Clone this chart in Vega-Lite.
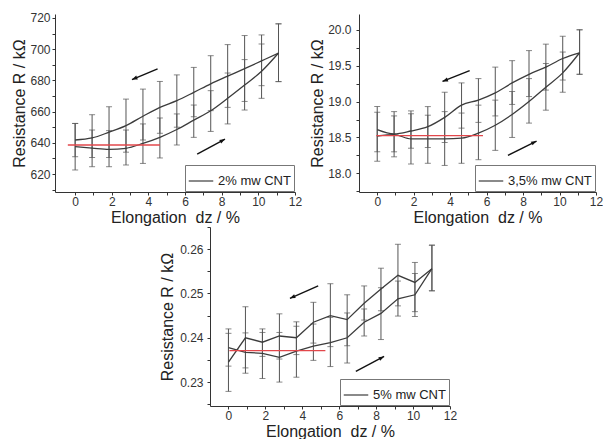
{
  "$schema": "https://vega.github.io/schema/vega-lite/v6.json",
  "background": "white",
  "padding": {"left": 11, "top": 11, "right": 0, "bottom": 0},
  "config": {
    "view": {"stroke": null},
    "axis": {"grid": false, "domainColor": "#333", "tickColor": "#333", "tickSize": 3, "labelFont": "Liberation Sans", "labelFontSize": 12, "labelColor": "#333", "titleFont": "Liberation Sans", "titleFontSize": 16, "titleFontWeight": "normal", "titleColor": "#222", "labelOverlap": false, "labelFlush": false}
  },
  "datasets": {
    "p1": [
      {"x": 0, "branch": "up", "label": "2% mw CNT", "mean": 641.8, "lo": 631.1, "hi": 652.4},
      {"x": 0.925, "branch": "up", "label": "2% mw CNT", "mean": 643.1, "lo": 630.6, "hi": 658},
      {"x": 1.85, "branch": "up", "label": "2% mw CNT", "mean": 646.8, "lo": 630.6, "hi": 663.1},
      {"x": 2.775, "branch": "up", "label": "2% mw CNT", "mean": 651, "lo": 634, "hi": 668},
      {"x": 3.7, "branch": "up", "label": "2% mw CNT", "mean": 657, "lo": 641.8, "hi": 674.4},
      {"x": 4.625, "branch": "up", "label": "2% mw CNT", "mean": 662.7, "lo": 646.1, "hi": 679.3},
      {"x": 5.55, "branch": "up", "label": "2% mw CNT", "mean": 667, "lo": 650, "hi": 683.5},
      {"x": 6.475, "branch": "up", "label": "2% mw CNT", "mean": 672.3, "lo": 656.7, "hi": 688.3},
      {"x": 7.4, "branch": "up", "label": "2% mw CNT", "mean": 677.8, "lo": 660.6, "hi": 695.8},
      {"x": 8.325, "branch": "up", "label": "2% mw CNT", "mean": 682.7, "lo": 662.7, "hi": 702.9},
      {"x": 9.25, "branch": "up", "label": "2% mw CNT", "mean": 687.5, "lo": 666.5, "hi": 708.7},
      {"x": 10.175, "branch": "up", "label": "2% mw CNT", "mean": 692.5, "lo": 676.6, "hi": 709.1},
      {"x": 11.1, "branch": "up", "label": "2% mw CNT", "mean": 697.5, "lo": 679.2, "hi": 716.2},
      {"x": 0, "branch": "down", "label": "2% mw CNT", "mean": 637.5, "lo": 622.6, "hi": 652.4},
      {"x": 0.925, "branch": "down", "label": "2% mw CNT", "mean": 636.6, "lo": 624.7, "hi": 648.2},
      {"x": 1.85, "branch": "down", "label": "2% mw CNT", "mean": 635.8, "lo": 624.7, "hi": 647.8},
      {"x": 2.775, "branch": "down", "label": "2% mw CNT", "mean": 636.5, "lo": 625.8, "hi": 648.2},
      {"x": 3.7, "branch": "down", "label": "2% mw CNT", "mean": 639.6, "lo": 626.8, "hi": 652.1},
      {"x": 4.625, "branch": "down", "label": "2% mw CNT", "mean": 643.5, "lo": 630.3, "hi": 655.9},
      {"x": 5.55, "branch": "down", "label": "2% mw CNT", "mean": 648.5, "lo": 638.6, "hi": 658.5},
      {"x": 6.475, "branch": "down", "label": "2% mw CNT", "mean": 654.5, "lo": 643.5, "hi": 664.2},
      {"x": 7.4, "branch": "down", "label": "2% mw CNT", "mean": 660.5, "lo": 647.3, "hi": 673.4},
      {"x": 8.325, "branch": "down", "label": "2% mw CNT", "mean": 668.5, "lo": 652.1, "hi": 684.7},
      {"x": 9.25, "branch": "down", "label": "2% mw CNT", "mean": 677, "lo": 661, "hi": 693.3},
      {"x": 10.175, "branch": "down", "label": "2% mw CNT", "mean": 685.8, "lo": 668.5, "hi": 703.3},
      {"x": 11.1, "branch": "down", "label": "2% mw CNT", "mean": 697.5, "lo": 679.2, "hi": 716.2}
    ],
    "p2": [
      {"x": 0, "branch": "up", "label": "3,5% mw CNT", "mean": 18.61, "lo": 18.30, "hi": 18.93},
      {"x": 0.925, "branch": "up", "label": "3,5% mw CNT", "mean": 18.55, "lo": 18.23, "hi": 18.86},
      {"x": 1.85, "branch": "up", "label": "3,5% mw CNT", "mean": 18.59, "lo": 18.35, "hi": 18.83},
      {"x": 2.775, "branch": "up", "label": "3,5% mw CNT", "mean": 18.65, "lo": 18.36, "hi": 18.93},
      {"x": 3.7, "branch": "up", "label": "3,5% mw CNT", "mean": 18.78, "lo": 18.43, "hi": 19.13},
      {"x": 4.625, "branch": "up", "label": "3,5% mw CNT", "mean": 18.95, "lo": 18.63, "hi": 19.26},
      {"x": 5.55, "branch": "up", "label": "3,5% mw CNT", "mean": 19.02, "lo": 18.71, "hi": 19.32},
      {"x": 6.475, "branch": "up", "label": "3,5% mw CNT", "mean": 19.12, "lo": 18.80, "hi": 19.48},
      {"x": 7.4, "branch": "up", "label": "3,5% mw CNT", "mean": 19.26, "lo": 18.96, "hi": 19.57},
      {"x": 8.325, "branch": "up", "label": "3,5% mw CNT", "mean": 19.38, "lo": 19.07, "hi": 19.71},
      {"x": 9.25, "branch": "up", "label": "3,5% mw CNT", "mean": 19.48, "lo": 19.16, "hi": 19.80},
      {"x": 10.175, "branch": "up", "label": "3,5% mw CNT", "mean": 19.60, "lo": 19.30, "hi": 19.91},
      {"x": 11.1, "branch": "up", "label": "3,5% mw CNT", "mean": 19.68, "lo": 19.38, "hi": 20.0},
      {"x": 0, "branch": "down", "label": "3,5% mw CNT", "mean": 18.52, "lo": 18.17, "hi": 18.85},
      {"x": 0.925, "branch": "down", "label": "3,5% mw CNT", "mean": 18.54, "lo": 18.30, "hi": 18.80},
      {"x": 1.85, "branch": "down", "label": "3,5% mw CNT", "mean": 18.48, "lo": 18.13, "hi": 18.87},
      {"x": 2.775, "branch": "down", "label": "3,5% mw CNT", "mean": 18.48, "lo": 18.14, "hi": 18.81},
      {"x": 3.7, "branch": "down", "label": "3,5% mw CNT", "mean": 18.48, "lo": 18.11, "hi": 18.86},
      {"x": 4.625, "branch": "down", "label": "3,5% mw CNT", "mean": 18.49, "lo": 18.14, "hi": 18.84},
      {"x": 5.55, "branch": "down", "label": "3,5% mw CNT", "mean": 18.56, "lo": 18.19, "hi": 18.95},
      {"x": 6.475, "branch": "down", "label": "3,5% mw CNT", "mean": 18.67, "lo": 18.32, "hi": 19.02},
      {"x": 7.4, "branch": "down", "label": "3,5% mw CNT", "mean": 18.82, "lo": 18.50, "hi": 19.14},
      {"x": 8.325, "branch": "down", "label": "3,5% mw CNT", "mean": 19.00, "lo": 18.70, "hi": 19.32},
      {"x": 9.25, "branch": "down", "label": "3,5% mw CNT", "mean": 19.20, "lo": 18.88, "hi": 19.53},
      {"x": 10.175, "branch": "down", "label": "3,5% mw CNT", "mean": 19.40, "lo": 19.13, "hi": 19.69},
      {"x": 11.1, "branch": "down", "label": "3,5% mw CNT", "mean": 19.68, "lo": 19.38, "hi": 20.0}
    ],
    "p3": [
      {"x": 0, "branch": "up", "label": "5% mw CNT", "mean": 0.2345, "lo": 0.2279, "hi": 0.2410},
      {"x": 0.92, "branch": "up", "label": "5% mw CNT", "mean": 0.2400, "lo": 0.2332, "hi": 0.2470},
      {"x": 1.84, "branch": "up", "label": "5% mw CNT", "mean": 0.2390, "lo": 0.2358, "hi": 0.2420},
      {"x": 2.76, "branch": "up", "label": "5% mw CNT", "mean": 0.2404, "lo": 0.2352, "hi": 0.2454},
      {"x": 3.68, "branch": "up", "label": "5% mw CNT", "mean": 0.2400, "lo": 0.2362, "hi": 0.2436},
      {"x": 4.6, "branch": "up", "label": "5% mw CNT", "mean": 0.2435, "lo": 0.2388, "hi": 0.2480},
      {"x": 5.52, "branch": "up", "label": "5% mw CNT", "mean": 0.2450, "lo": 0.2380, "hi": 0.2522},
      {"x": 6.43, "branch": "up", "label": "5% mw CNT", "mean": 0.2441, "lo": 0.2382, "hi": 0.2497},
      {"x": 7.35, "branch": "up", "label": "5% mw CNT", "mean": 0.2478, "lo": 0.2440, "hi": 0.2517},
      {"x": 8.26, "branch": "up", "label": "5% mw CNT", "mean": 0.2510, "lo": 0.2461, "hi": 0.2557},
      {"x": 9.18, "branch": "up", "label": "5% mw CNT", "mean": 0.2541, "lo": 0.2472, "hi": 0.2611},
      {"x": 10.1, "branch": "up", "label": "5% mw CNT", "mean": 0.2525, "lo": 0.2459, "hi": 0.2570},
      {"x": 11.02, "branch": "up", "label": "5% mw CNT", "mean": 0.2556, "lo": 0.2506, "hi": 0.2609},
      {"x": 0, "branch": "down", "label": "5% mw CNT", "mean": 0.2378, "lo": 0.2336, "hi": 0.2420},
      {"x": 0.92, "branch": "down", "label": "5% mw CNT", "mean": 0.2367, "lo": 0.2320, "hi": 0.2411},
      {"x": 1.84, "branch": "down", "label": "5% mw CNT", "mean": 0.2365, "lo": 0.2308, "hi": 0.2412},
      {"x": 2.76, "branch": "down", "label": "5% mw CNT", "mean": 0.2356, "lo": 0.2300, "hi": 0.2412},
      {"x": 3.68, "branch": "down", "label": "5% mw CNT", "mean": 0.2370, "lo": 0.2311, "hi": 0.2426},
      {"x": 4.6, "branch": "down", "label": "5% mw CNT", "mean": 0.2381, "lo": 0.2349, "hi": 0.2431},
      {"x": 5.52, "branch": "down", "label": "5% mw CNT", "mean": 0.2389, "lo": 0.2335, "hi": 0.2446},
      {"x": 6.43, "branch": "down", "label": "5% mw CNT", "mean": 0.2400, "lo": 0.2343, "hi": 0.2456},
      {"x": 7.35, "branch": "down", "label": "5% mw CNT", "mean": 0.2435, "lo": 0.2404, "hi": 0.2465},
      {"x": 8.26, "branch": "down", "label": "5% mw CNT", "mean": 0.2455, "lo": 0.2396, "hi": 0.2513},
      {"x": 9.18, "branch": "down", "label": "5% mw CNT", "mean": 0.2488, "lo": 0.2449, "hi": 0.2528},
      {"x": 10.1, "branch": "down", "label": "5% mw CNT", "mean": 0.2497, "lo": 0.2448, "hi": 0.2545},
      {"x": 11.02, "branch": "down", "label": "5% mw CNT", "mean": 0.2556, "lo": 0.2506, "hi": 0.2609}
    ],
    "red1": [{"x1": -0.4, "x2": 4.63, "y": 638.6}],
    "red2": [{"x1": -0.05, "x2": 5.8, "y": 18.525}],
    "red3": [{"x1": 0.05, "x2": 5.25, "y": 0.2371}],
    "arr1": [
      {"dir": "left", "xs": 4.5, "ys": 687.3, "xe": 3.1, "ye": 680.5},
      {"dir": "right", "xs": 6.66, "ys": 632.8, "xe": 8.18, "ye": 642.4}
    ],
    "arr2": [
      {"dir": "left", "xs": 5.07, "ys": 19.43, "xe": 3.58, "ye": 19.28},
      {"dir": "right", "xs": 7.17, "ys": 18.25, "xe": 8.74, "ye": 18.45}
    ],
    "arr3": [
      {"dir": "left", "xs": 4.86, "ys": 0.2517, "xe": 3.33, "ye": 0.2489},
      {"dir": "right", "xs": 6.90, "ys": 0.2324, "xe": 8.43, "ye": 0.2358}
    ]
  },
  "vconcat": [
    {
      "hconcat": [
        {
          "width": 240, "height": 178,
          "layer": [
            {"data": {"name": "p1"}, "mark": {"type": "rule", "color": "#555", "strokeWidth": 1},
             "encoding": {
               "x": {"field": "x", "type": "quantitative", "scale": {"domain": [-1.1, 12], "nice": false, "zero": false},
                     "axis": {"title": "Elongation\u00a0 dz / %", "values": [0,1,2,3,4,5,6,7,8,9,10,11,12], "labelExpr": "datum.value % 2 === 0 ? datum.label : ''", "labelPadding": 1, "titlePadding": 2}},
               "y": {"field": "lo", "type": "quantitative", "scale": {"domain": [608.5, 722.5], "nice": false, "zero": false},
                     "axis": {"title": "Resistance R / kΩ", "values": [610,620,630,640,650,660,670,680,690,700,710,720], "labelExpr": "datum.value % 20 === 0 ? datum.label : ''", "labelPadding": 2, "titlePadding": 2}},
               "y2": {"field": "hi"}}},
            {"data": {"name": "p1"}, "mark": {"type": "tick", "orient": "horizontal", "size": 6, "thickness": 1, "color": "#555"},
             "encoding": {
               "x": {"field": "x", "type": "quantitative", "axis": {"title": "Elongation\u00a0 dz / %", "values": [0,1,2,3,4,5,6,7,8,9,10,11,12], "labelExpr": "datum.value % 2 === 0 ? datum.label : ''", "labelPadding": 1, "titlePadding": 2}},
               "y": {"field": "lo", "type": "quantitative", "axis": {"title": "Resistance R / kΩ", "values": [610,620,630,640,650,660,670,680,690,700,710,720], "labelExpr": "datum.value % 20 === 0 ? datum.label : ''", "labelPadding": 2, "titlePadding": 2}}}},
            {"data": {"name": "p1"}, "mark": {"type": "tick", "orient": "horizontal", "size": 6, "thickness": 1, "color": "#555"},
             "encoding": {
               "x": {"field": "x", "type": "quantitative", "axis": {"title": "Elongation\u00a0 dz / %", "values": [0,1,2,3,4,5,6,7,8,9,10,11,12], "labelExpr": "datum.value % 2 === 0 ? datum.label : ''", "labelPadding": 1, "titlePadding": 2}},
               "y": {"field": "hi", "type": "quantitative", "axis": {"title": "Resistance R / kΩ", "values": [610,620,630,640,650,660,670,680,690,700,710,720], "labelExpr": "datum.value % 20 === 0 ? datum.label : ''", "labelPadding": 2, "titlePadding": 2}}}},
            {"data": {"name": "p1"}, "mark": {"type": "line", "interpolate": "monotone", "strokeWidth": 1.3},
             "encoding": {
               "x": {"field": "x", "type": "quantitative", "axis": {"title": "Elongation\u00a0 dz / %", "values": [0,1,2,3,4,5,6,7,8,9,10,11,12], "labelExpr": "datum.value % 2 === 0 ? datum.label : ''", "labelPadding": 1, "titlePadding": 2}},
               "y": {"field": "mean", "type": "quantitative", "axis": {"title": "Resistance R / kΩ", "values": [610,620,630,640,650,660,670,680,690,700,710,720], "labelExpr": "datum.value % 20 === 0 ? datum.label : ''", "labelPadding": 2, "titlePadding": 2}},
               "detail": {"field": "branch"},
               "color": {"field": "label", "type": "nominal", "scale": {"range": ["#3c3c3c"]},
                         "legend": {"title": null, "orient": "bottom-right", "offset": 1, "strokeColor": "#777", "fillColor": "white", "padding": 3, "symbolType": "stroke", "symbolSize": 600, "symbolStrokeWidth": 1.2, "labelFontSize": 13, "labelFont": "Liberation Sans", "labelColor": "#222"}}}},
            {"data": {"name": "red1"}, "mark": {"type": "rule", "color": "#e2474b", "strokeWidth": 1.3},
             "encoding": {
               "x": {"field": "x1", "type": "quantitative", "axis": {"title": "Elongation\u00a0 dz / %", "values": [0,1,2,3,4,5,6,7,8,9,10,11,12], "labelExpr": "datum.value % 2 === 0 ? datum.label : ''", "labelPadding": 1, "titlePadding": 2}},
               "x2": {"field": "x2"},
               "y": {"field": "y", "type": "quantitative", "axis": {"title": "Resistance R / kΩ", "values": [610,620,630,640,650,660,670,680,690,700,710,720], "labelExpr": "datum.value % 20 === 0 ? datum.label : ''", "labelPadding": 2, "titlePadding": 2}}}},
            {"data": {"name": "arr1"}, "mark": {"type": "rule", "color": "#111", "strokeWidth": 1.4},
             "encoding": {
               "x": {"field": "xs", "type": "quantitative", "axis": {"title": "Elongation\u00a0 dz / %", "values": [0,1,2,3,4,5,6,7,8,9,10,11,12], "labelExpr": "datum.value % 2 === 0 ? datum.label : ''", "labelPadding": 1, "titlePadding": 2}},
               "x2": {"field": "xe"},
               "y": {"field": "ys", "type": "quantitative", "axis": {"title": "Resistance R / kΩ", "values": [610,620,630,640,650,660,670,680,690,700,710,720], "labelExpr": "datum.value % 20 === 0 ? datum.label : ''", "labelPadding": 2, "titlePadding": 2}},
               "y2": {"field": "ye"}}},
            {"data": {"name": "arr1"}, "transform": [{"filter": "datum.dir === 'left'"}],
             "mark": {"type": "point", "shape": "M0,0L-0.75,2L0.75,2Z", "filled": true, "color": "#111", "opacity": 1, "size": 30, "angle": 248},
             "encoding": {
               "x": {"field": "xe", "type": "quantitative", "axis": {"title": "Elongation\u00a0 dz / %", "values": [0,1,2,3,4,5,6,7,8,9,10,11,12], "labelExpr": "datum.value % 2 === 0 ? datum.label : ''", "labelPadding": 1, "titlePadding": 2}},
               "y": {"field": "ye", "type": "quantitative", "axis": {"title": "Resistance R / kΩ", "values": [610,620,630,640,650,660,670,680,690,700,710,720], "labelExpr": "datum.value % 20 === 0 ? datum.label : ''", "labelPadding": 2, "titlePadding": 2}}}},
            {"data": {"name": "arr1"}, "transform": [{"filter": "datum.dir === 'right'"}],
             "mark": {"type": "point", "shape": "M0,0L-0.75,2L0.75,2Z", "filled": true, "color": "#111", "opacity": 1, "size": 30, "angle": 61},
             "encoding": {
               "x": {"field": "xe", "type": "quantitative", "axis": {"title": "Elongation\u00a0 dz / %", "values": [0,1,2,3,4,5,6,7,8,9,10,11,12], "labelExpr": "datum.value % 2 === 0 ? datum.label : ''", "labelPadding": 1, "titlePadding": 2}},
               "y": {"field": "ye", "type": "quantitative", "axis": {"title": "Resistance R / kΩ", "values": [610,620,630,640,650,660,670,680,690,700,710,720], "labelExpr": "datum.value % 20 === 0 ? datum.label : ''", "labelPadding": 2, "titlePadding": 2}}}}
          ]
        },
        {
          "width": 237, "height": 178,
          "layer": [
            {"data": {"name": "p2"}, "mark": {"type": "rule", "color": "#555", "strokeWidth": 1},
             "encoding": {
               "x": {"field": "x", "type": "quantitative", "scale": {"domain": [-1, 12], "nice": false, "zero": false},
                     "axis": {"title": "Elongation\u00a0 dz / %", "values": [0,1,2,3,4,5,6,7,8,9,10,11,12], "labelExpr": "datum.value % 2 === 0 ? datum.label : ''", "labelPadding": 1, "titlePadding": 2}},
               "y": {"field": "lo", "type": "quantitative", "scale": {"domain": [17.74, 20.22], "nice": false, "zero": false},
                     "axis": {"title": "Resistance R / kΩ", "values": [17.75,18,18.25,18.5,18.75,19,19.25,19.5,19.75,20], "labelExpr": "abs(datum.value*2 - round(datum.value*2)) < 0.001 ? format(datum.value, '.1f') : ''", "labelPadding": 5, "titlePadding": 2}},
               "y2": {"field": "hi"}}},
            {"data": {"name": "p2"}, "mark": {"type": "tick", "orient": "horizontal", "size": 6, "thickness": 1, "color": "#555"},
             "encoding": {
               "x": {"field": "x", "type": "quantitative", "axis": {"title": "Elongation\u00a0 dz / %", "values": [0,1,2,3,4,5,6,7,8,9,10,11,12], "labelExpr": "datum.value % 2 === 0 ? datum.label : ''", "labelPadding": 1, "titlePadding": 2}},
               "y": {"field": "lo", "type": "quantitative", "axis": {"title": "Resistance R / kΩ", "values": [17.75,18,18.25,18.5,18.75,19,19.25,19.5,19.75,20], "labelExpr": "abs(datum.value*2 - round(datum.value*2)) < 0.001 ? format(datum.value, '.1f') : ''", "labelPadding": 5, "titlePadding": 2}}}},
            {"data": {"name": "p2"}, "mark": {"type": "tick", "orient": "horizontal", "size": 6, "thickness": 1, "color": "#555"},
             "encoding": {
               "x": {"field": "x", "type": "quantitative", "axis": {"title": "Elongation\u00a0 dz / %", "values": [0,1,2,3,4,5,6,7,8,9,10,11,12], "labelExpr": "datum.value % 2 === 0 ? datum.label : ''", "labelPadding": 1, "titlePadding": 2}},
               "y": {"field": "hi", "type": "quantitative", "axis": {"title": "Resistance R / kΩ", "values": [17.75,18,18.25,18.5,18.75,19,19.25,19.5,19.75,20], "labelExpr": "abs(datum.value*2 - round(datum.value*2)) < 0.001 ? format(datum.value, '.1f') : ''", "labelPadding": 5, "titlePadding": 2}}}},
            {"data": {"name": "p2"}, "mark": {"type": "line", "interpolate": "monotone", "strokeWidth": 1.3},
             "encoding": {
               "x": {"field": "x", "type": "quantitative", "axis": {"title": "Elongation\u00a0 dz / %", "values": [0,1,2,3,4,5,6,7,8,9,10,11,12], "labelExpr": "datum.value % 2 === 0 ? datum.label : ''", "labelPadding": 1, "titlePadding": 2}},
               "y": {"field": "mean", "type": "quantitative", "axis": {"title": "Resistance R / kΩ", "values": [17.75,18,18.25,18.5,18.75,19,19.25,19.5,19.75,20], "labelExpr": "abs(datum.value*2 - round(datum.value*2)) < 0.001 ? format(datum.value, '.1f') : ''", "labelPadding": 5, "titlePadding": 2}},
               "detail": {"field": "branch"},
               "color": {"field": "label", "type": "nominal", "scale": {"range": ["#3c3c3c"]},
                         "legend": {"title": null, "orient": "bottom-right", "offset": 1, "strokeColor": "#777", "fillColor": "white", "padding": 3, "symbolType": "stroke", "symbolSize": 600, "symbolStrokeWidth": 1.2, "labelFontSize": 13, "labelFont": "Liberation Sans", "labelColor": "#222"}}}},
            {"data": {"name": "red2"}, "mark": {"type": "rule", "color": "#e2474b", "strokeWidth": 1.3},
             "encoding": {
               "x": {"field": "x1", "type": "quantitative", "axis": {"title": "Elongation\u00a0 dz / %", "values": [0,1,2,3,4,5,6,7,8,9,10,11,12], "labelExpr": "datum.value % 2 === 0 ? datum.label : ''", "labelPadding": 1, "titlePadding": 2}},
               "x2": {"field": "x2"},
               "y": {"field": "y", "type": "quantitative", "axis": {"title": "Resistance R / kΩ", "values": [17.75,18,18.25,18.5,18.75,19,19.25,19.5,19.75,20], "labelExpr": "abs(datum.value*2 - round(datum.value*2)) < 0.001 ? format(datum.value, '.1f') : ''", "labelPadding": 5, "titlePadding": 2}}}},
            {"data": {"name": "arr2"}, "mark": {"type": "rule", "color": "#111", "strokeWidth": 1.4},
             "encoding": {
               "x": {"field": "xs", "type": "quantitative", "axis": {"title": "Elongation\u00a0 dz / %", "values": [0,1,2,3,4,5,6,7,8,9,10,11,12], "labelExpr": "datum.value % 2 === 0 ? datum.label : ''", "labelPadding": 1, "titlePadding": 2}},
               "x2": {"field": "xe"},
               "y": {"field": "ys", "type": "quantitative", "axis": {"title": "Resistance R / kΩ", "values": [17.75,18,18.25,18.5,18.75,19,19.25,19.5,19.75,20], "labelExpr": "abs(datum.value*2 - round(datum.value*2)) < 0.001 ? format(datum.value, '.1f') : ''", "labelPadding": 5, "titlePadding": 2}},
               "y2": {"field": "ye"}}},
            {"data": {"name": "arr2"}, "transform": [{"filter": "datum.dir === 'left'"}],
             "mark": {"type": "point", "shape": "M0,0L-0.75,2L0.75,2Z", "filled": true, "color": "#111", "opacity": 1, "size": 30, "angle": 249},
             "encoding": {
               "x": {"field": "xe", "type": "quantitative", "axis": {"title": "Elongation\u00a0 dz / %", "values": [0,1,2,3,4,5,6,7,8,9,10,11,12], "labelExpr": "datum.value % 2 === 0 ? datum.label : ''", "labelPadding": 1, "titlePadding": 2}},
               "y": {"field": "ye", "type": "quantitative", "axis": {"title": "Resistance R / kΩ", "values": [17.75,18,18.25,18.5,18.75,19,19.25,19.5,19.75,20], "labelExpr": "abs(datum.value*2 - round(datum.value*2)) < 0.001 ? format(datum.value, '.1f') : ''", "labelPadding": 5, "titlePadding": 2}}}},
            {"data": {"name": "arr2"}, "transform": [{"filter": "datum.dir === 'right'"}],
             "mark": {"type": "point", "shape": "M0,0L-0.75,2L0.75,2Z", "filled": true, "color": "#111", "opacity": 1, "size": 30, "angle": 63},
             "encoding": {
               "x": {"field": "xe", "type": "quantitative", "axis": {"title": "Elongation\u00a0 dz / %", "values": [0,1,2,3,4,5,6,7,8,9,10,11,12], "labelExpr": "datum.value % 2 === 0 ? datum.label : ''", "labelPadding": 1, "titlePadding": 2}},
               "y": {"field": "ye", "type": "quantitative", "axis": {"title": "Resistance R / kΩ", "values": [17.75,18,18.25,18.5,18.75,19,19.25,19.5,19.75,20], "labelExpr": "abs(datum.value*2 - round(datum.value*2)) < 0.001 ? format(datum.value, '.1f') : ''", "labelPadding": 5, "titlePadding": 2}}}}
          ]
        }
      ],
      "spacing": 7,
      "resolve": {"scale": {"x": "independent", "y": "independent", "color": "independent"}, "legend": {"color": "independent"}}
    },
    {
      "hconcat": [
        {"width": 95, "height": 1, "data": {"values": [{}]}, "mark": {"type": "point", "opacity": 0}, "encoding": {}},
        {
          "width": 240, "height": 179,
          "layer": [
            {"data": {"name": "p3"}, "mark": {"type": "rule", "color": "#555", "strokeWidth": 1},
             "encoding": {
               "x": {"field": "x", "type": "quantitative", "scale": {"domain": [-1, 12], "nice": false, "zero": false},
                     "axis": {"title": "Elongation\u00a0 dz / %", "values": [0,1,2,3,4,5,6,7,8,9,10,11,12], "labelExpr": "datum.value % 2 === 0 ? datum.label : ''", "labelPadding": 1, "titlePadding": 2}},
               "y": {"field": "lo", "type": "quantitative", "scale": {"domain": [0.2246, 0.265], "nice": false, "zero": false},
                     "axis": {"title": "Resistance R / kΩ", "values": [0.225,0.23,0.235,0.24,0.245,0.25,0.255,0.26,0.265], "labelExpr": "abs(datum.value*100 - round(datum.value*100)) < 0.001 ? format(datum.value, '.2f') : ''", "labelPadding": 4, "titlePadding": 4}},
               "y2": {"field": "hi"}}},
            {"data": {"name": "p3"}, "mark": {"type": "tick", "orient": "horizontal", "size": 6, "thickness": 1, "color": "#555"},
             "encoding": {
               "x": {"field": "x", "type": "quantitative", "axis": {"title": "Elongation\u00a0 dz / %", "values": [0,1,2,3,4,5,6,7,8,9,10,11,12], "labelExpr": "datum.value % 2 === 0 ? datum.label : ''", "labelPadding": 1, "titlePadding": 2}},
               "y": {"field": "lo", "type": "quantitative", "axis": {"title": "Resistance R / kΩ", "values": [0.225,0.23,0.235,0.24,0.245,0.25,0.255,0.26,0.265], "labelExpr": "abs(datum.value*100 - round(datum.value*100)) < 0.001 ? format(datum.value, '.2f') : ''", "labelPadding": 4, "titlePadding": 4}}}},
            {"data": {"name": "p3"}, "mark": {"type": "tick", "orient": "horizontal", "size": 6, "thickness": 1, "color": "#555"},
             "encoding": {
               "x": {"field": "x", "type": "quantitative", "axis": {"title": "Elongation\u00a0 dz / %", "values": [0,1,2,3,4,5,6,7,8,9,10,11,12], "labelExpr": "datum.value % 2 === 0 ? datum.label : ''", "labelPadding": 1, "titlePadding": 2}},
               "y": {"field": "hi", "type": "quantitative", "axis": {"title": "Resistance R / kΩ", "values": [0.225,0.23,0.235,0.24,0.245,0.25,0.255,0.26,0.265], "labelExpr": "abs(datum.value*100 - round(datum.value*100)) < 0.001 ? format(datum.value, '.2f') : ''", "labelPadding": 4, "titlePadding": 4}}}},
            {"data": {"name": "p3"}, "mark": {"type": "line", "interpolate": "linear", "strokeWidth": 1.3},
             "encoding": {
               "x": {"field": "x", "type": "quantitative", "axis": {"title": "Elongation\u00a0 dz / %", "values": [0,1,2,3,4,5,6,7,8,9,10,11,12], "labelExpr": "datum.value % 2 === 0 ? datum.label : ''", "labelPadding": 1, "titlePadding": 2}},
               "y": {"field": "mean", "type": "quantitative", "axis": {"title": "Resistance R / kΩ", "values": [0.225,0.23,0.235,0.24,0.245,0.25,0.255,0.26,0.265], "labelExpr": "abs(datum.value*100 - round(datum.value*100)) < 0.001 ? format(datum.value, '.2f') : ''", "labelPadding": 4, "titlePadding": 4}},
               "detail": {"field": "branch"},
               "color": {"field": "label", "type": "nominal", "scale": {"range": ["#3c3c3c"]},
                         "legend": {"title": null, "orient": "bottom-right", "offset": 1, "strokeColor": "#777", "fillColor": "white", "padding": 3, "symbolType": "stroke", "symbolSize": 600, "symbolStrokeWidth": 1.2, "labelFontSize": 13, "labelFont": "Liberation Sans", "labelColor": "#222"}}}},
            {"data": {"name": "red3"}, "mark": {"type": "rule", "color": "#e2474b", "strokeWidth": 1.3},
             "encoding": {
               "x": {"field": "x1", "type": "quantitative", "axis": {"title": "Elongation\u00a0 dz / %", "values": [0,1,2,3,4,5,6,7,8,9,10,11,12], "labelExpr": "datum.value % 2 === 0 ? datum.label : ''", "labelPadding": 1, "titlePadding": 2}},
               "x2": {"field": "x2"},
               "y": {"field": "y", "type": "quantitative", "axis": {"title": "Resistance R / kΩ", "values": [0.225,0.23,0.235,0.24,0.245,0.25,0.255,0.26,0.265], "labelExpr": "abs(datum.value*100 - round(datum.value*100)) < 0.001 ? format(datum.value, '.2f') : ''", "labelPadding": 4, "titlePadding": 4}}}},
            {"data": {"name": "arr3"}, "mark": {"type": "rule", "color": "#111", "strokeWidth": 1.4},
             "encoding": {
               "x": {"field": "xs", "type": "quantitative", "axis": {"title": "Elongation\u00a0 dz / %", "values": [0,1,2,3,4,5,6,7,8,9,10,11,12], "labelExpr": "datum.value % 2 === 0 ? datum.label : ''", "labelPadding": 1, "titlePadding": 2}},
               "x2": {"field": "xe"},
               "y": {"field": "ys", "type": "quantitative", "axis": {"title": "Resistance R / kΩ", "values": [0.225,0.23,0.235,0.24,0.245,0.25,0.255,0.26,0.265], "labelExpr": "abs(datum.value*100 - round(datum.value*100)) < 0.001 ? format(datum.value, '.2f') : ''", "labelPadding": 4, "titlePadding": 4}},
               "y2": {"field": "ye"}}},
            {"data": {"name": "arr3"}, "transform": [{"filter": "datum.dir === 'left'"}],
             "mark": {"type": "point", "shape": "M0,0L-0.75,2L0.75,2Z", "filled": true, "color": "#111", "opacity": 1, "size": 30, "angle": 246},
             "encoding": {
               "x": {"field": "xe", "type": "quantitative", "axis": {"title": "Elongation\u00a0 dz / %", "values": [0,1,2,3,4,5,6,7,8,9,10,11,12], "labelExpr": "datum.value % 2 === 0 ? datum.label : ''", "labelPadding": 1, "titlePadding": 2}},
               "y": {"field": "ye", "type": "quantitative", "axis": {"title": "Resistance R / kΩ", "values": [0.225,0.23,0.235,0.24,0.245,0.25,0.255,0.26,0.265], "labelExpr": "abs(datum.value*100 - round(datum.value*100)) < 0.001 ? format(datum.value, '.2f') : ''", "labelPadding": 4, "titlePadding": 4}}}},
            {"data": {"name": "arr3"}, "transform": [{"filter": "datum.dir === 'right'"}],
             "mark": {"type": "point", "shape": "M0,0L-0.75,2L0.75,2Z", "filled": true, "color": "#111", "opacity": 1, "size": 30, "angle": 62},
             "encoding": {
               "x": {"field": "xe", "type": "quantitative", "axis": {"title": "Elongation\u00a0 dz / %", "values": [0,1,2,3,4,5,6,7,8,9,10,11,12], "labelExpr": "datum.value % 2 === 0 ? datum.label : ''", "labelPadding": 1, "titlePadding": 2}},
               "y": {"field": "ye", "type": "quantitative", "axis": {"title": "Resistance R / kΩ", "values": [0.225,0.23,0.235,0.24,0.245,0.25,0.255,0.26,0.265], "labelExpr": "abs(datum.value*100 - round(datum.value*100)) < 0.001 ? format(datum.value, '.2f') : ''", "labelPadding": 4, "titlePadding": 4}}}}
          ]
        }
      ],
      "spacing": 9,
      "resolve": {"scale": {"x": "independent", "y": "independent", "color": "independent"}, "legend": {"color": "independent"}}
    }
  ],
  "spacing": -4,
  "resolve": {"scale": {"x": "independent", "y": "independent", "color": "independent"}, "legend": {"color": "independent"}}
}
